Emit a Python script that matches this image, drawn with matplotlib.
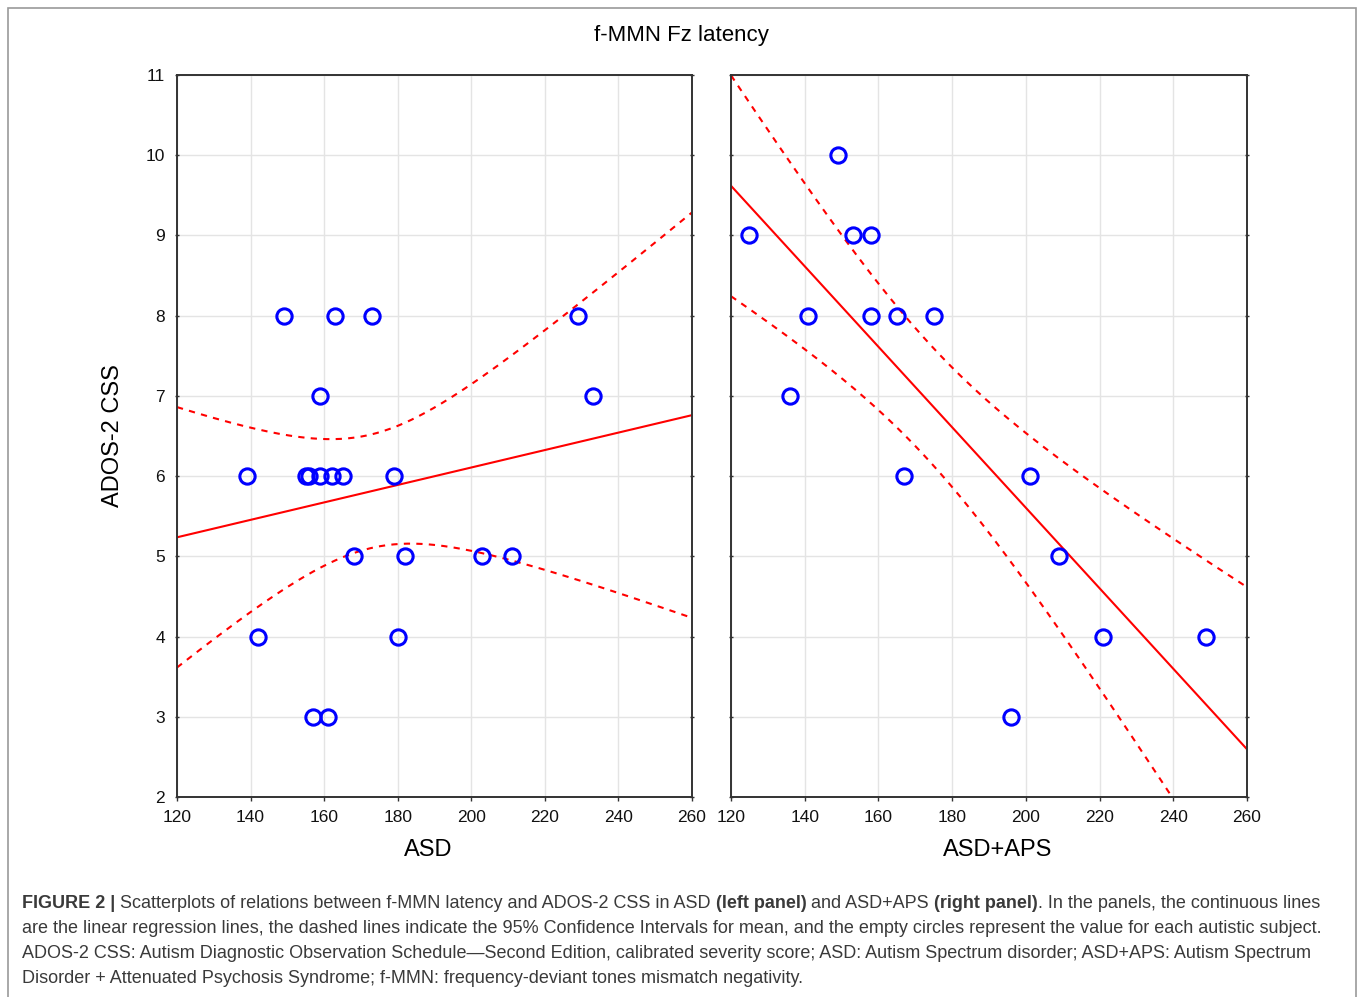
import numpy as np
import matplotlib
matplotlib.use("Agg")
from matplotlib import pyplot as plt
from matplotlib.patches import Rectangle

plt.rcParams["font.family"] = ["Liberation Sans", "DejaVu Sans"]

# ASD group: f-MMN latency (ms) vs ADOS-2 CSS
asd_latency = [139, 142, 149, 155, 156, 157, 159, 159, 161, 162, 163,
               165, 168, 173, 179, 180, 182, 203, 211, 229, 233]
asd_css = [6, 4, 8, 6, 6, 3, 7, 6, 3, 6, 8,
           6, 5, 8, 6, 4, 5, 5, 5, 8, 7]

# ASD+APS group
aps_latency = [125, 136, 141, 149, 153, 158, 158, 165, 167, 175,
               196, 201, 209, 221, 249]
aps_css = [9, 7, 8, 10, 9, 9, 8, 8, 6, 8,
           3, 6, 5, 4, 4]

# two-sided 95% t quantiles for df = n - 2 (21 and 15 subjects)
t_crit = {19: 2.093, 13: 2.160}

x_ticks = [120, 140, 160, 180, 200, 220, 240, 260]
y_ticks = [2, 3, 4, 5, 6, 7, 8, 9, 10, 11]

caption_lines = [
    [("FIGURE 2 |", True),
     (" Scatterplots of relations between f-MMN latency and ADOS-2 CSS in ASD ", False),
     ("(left panel)", True), (" and ASD+APS ", False), ("(right panel)", True),
     (". In the panels, the continuous lines", False)],
    [("are the linear regression lines, the dashed lines indicate the 95% Confidence "
      "Intervals for mean, and the empty circles represent the value for each autistic subject.", False)],
    [("ADOS-2 CSS: Autism Diagnostic Observation Schedule\u2014Second Edition, calibrated "
      "severity score; ASD: Autism Spectrum disorder; ASD+APS: Autism Spectrum", False)],
    [("Disorder + Attenuated Psychosis Syndrome; f-MMN: frequency-deviant tones "
      "mismatch negativity.", False)],
]


def fit_with_ci(x, y, xs):
    x = np.asarray(x, float)
    y = np.asarray(y, float)
    n = len(x)
    b, a = np.polyfit(x, y, 1)
    resid = y - (a + b * x)
    s = np.sqrt(np.sum(resid ** 2) / (n - 2))
    sxx = np.sum((x - x.mean()) ** 2)
    se = s * np.sqrt(1.0 / n + (xs - x.mean()) ** 2 / sxx)
    yhat = a + b * xs
    t = t_crit[n - 2]
    return yhat, yhat - t * se, yhat + t * se


fig = plt.figure(figsize=(13.58, 9.97), dpi=100)
fig.patches.append(Rectangle((8 / 1358, -0.01), 1348 / 1358, 1 - 8 / 997 + 0.01,
                             transform=fig.transFigure, fill=False,
                             edgecolor="#9a9a9a", linewidth=1.2))

ax1 = fig.add_axes([177 / 1358, 1 - 797 / 997, 515 / 1358, 722 / 997])
ax2 = fig.add_axes([731 / 1358, 1 - 797 / 997, 516 / 1358, 722 / 997])

xs = np.linspace(120, 260, 300)
for ax, lat, css, name, lx in [(ax1, asd_latency, asd_css, "ASD", 0.487),
                               (ax2, aps_latency, aps_css, "ASD+APS", 0.517)]:
    yhat, lo, hi = fit_with_ci(lat, css, xs)
    ax.plot(xs, yhat, color="red", lw=1.5, zorder=2)
    ax.plot(xs, lo, color="red", lw=1.5, ls=(0, (3, 3)), zorder=2)
    ax.plot(xs, hi, color="red", lw=1.5, ls=(0, (3, 3)), zorder=2)
    ax.plot(lat, css, "o", ms=11, mfc="none", mec="blue", mew=2.2, zorder=3)
    ax.set_xlim(120, 260)
    ax.set_ylim(2, 11)
    ax.set_xticks(x_ticks)
    ax.set_yticks(y_ticks)
    ax.grid(True, color="#e4e4e4", lw=1)
    ax.set_axisbelow(True)
    for sp in ax.spines.values():
        sp.set_color("#333333")
        sp.set_linewidth(1.4)
    ax.tick_params(axis="both", labelsize=12.5, length=3, width=1, color="#333333",
                   labelcolor="#111111")
    ax.tick_params(axis="y", right=True, direction="inout", pad=7)
    ax.tick_params(axis="x", direction="out", pad=6)
    ax.set_xlabel(name, fontsize=17)
    ax.xaxis.set_label_coords(lx, -0.058)

ax1.set_ylabel("ADOS-2 CSS", fontsize=17, labelpad=16)
ax2.tick_params(axis="y", labelleft=False)

fig.text(681 / 1358, 1 - 35 / 997, "f-MMN Fz latency", fontsize=16,
         ha="center", va="center")

# caption with inline bold pieces, laid out piece by piece
cap_size = 12.95
cap_color = "#3a3a3a"
baselines = [908, 933, 958, 983]
caption_texts = []
for line, yb in zip(caption_lines, baselines):
    for txt, bold in line:
        caption_texts.append(fig.text(22 / 1358, 1 - yb / 997, txt, ha="left",
                                      va="baseline", fontsize=cap_size,
                                      color=cap_color,
                                      fontweight="bold" if bold else "normal"))

fig.canvas.draw()
renderer = fig.canvas.get_renderer()
i = 0
for line, yb in zip(caption_lines, baselines):
    x_px = 22
    for _ in line:
        t = caption_texts[i]
        t.set_position((x_px / 1358, 1 - yb / 997))
        x_px += t.get_window_extent(renderer).width
        i += 1

fig.savefig("out.png", dpi=100)
